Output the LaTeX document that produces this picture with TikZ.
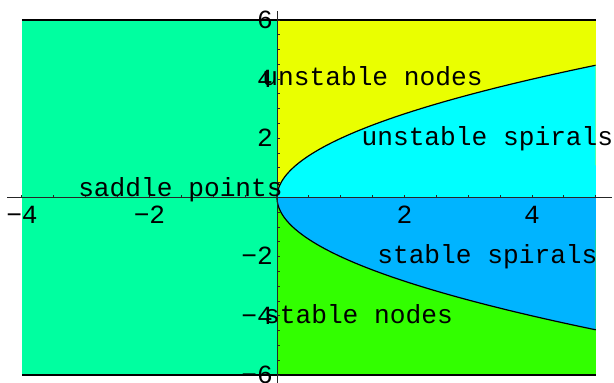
\documentclass[tikz,border=0pt]{standalone}
\usepackage{fontspec}
\newfontfamily\plotfont{Liberation Mono}
\definecolor{saddlegreen}{RGB}{0,255,160}
\definecolor{unodeyellow}{RGB}{234,255,0}
\definecolor{uspiralcyan}{RGB}{0,255,255}
\definecolor{sspiralblue}{RGB}{0,180,255}
\definecolor{snodegreen}{RGB}{50,255,0}

\begin{document}
\begin{tikzpicture}[x=63.75bp, y=29.58bp,
  regionlabel/.style={font=\plotfont\fontsize{26.3}{26.3}\selectfont, inner sep=0pt, anchor=base},
  ticklabel/.style={font=\plotfont\fontsize{26.3}{26.3}\selectfont, inner sep=0pt},
  boundary/.style={line width=1.2bp, black},
  axisline/.style={line width=1bp, black!85}
]
  \useasboundingbox (-4.345,-6.237) rectangle (5.286,6.677);
  % regions of the trace-determinant plane
  \fill[saddlegreen] (-4,-6) rectangle (0,6);
  \fill[unodeyellow] (0,0) rectangle (5,6);
  \fill[snodegreen] (0,-6) rectangle (5,0);
  \fill[uspiralcyan] plot[domain=0:4.4721, samples=60] ({\x*\x/4},\x) -- (5,0) -- cycle;
  \fill[sspiralblue] plot[domain=0:4.4721, samples=60] ({\x*\x/4},-\x) -- (5,0) -- cycle;
  \draw[boundary] plot[domain=-4.4721:4.4721, samples=120, smooth] ({\x*\x/4},\x);
  \draw[boundary] (-4,6) -- (5,6);
  \draw[boundary] (-4,-6) -- (5,-6);
  % axes and ticks
  \draw[axisline] (-4.235,0) -- (5.255,0);
  \draw[axisline] (0,-6.3) -- (0,6.305);
  \foreach \t in {-4,-3.5,...,5} \draw[axisline] (\t,0) -- ++(0,3bp);
  \foreach \t in {-6,-5.5,...,6} \draw[axisline] (0,\t) -- ++(3bp,0);
  \foreach \v/\s [count=\k] in {-4/−4,-2/−2,2/2,4/4}
    \node[ticklabel, anchor=base] (xtick\k) at (\v,-0.862) {\s};
  \foreach \v/\s [count=\k] in {6/6,4/4,2/2,-2/−2,-4/−4,-6/−6}
    \node[ticklabel, anchor=base east] (ytick\k) at (-0.063,{\v-0.28}) {\s};
  % region names
  \node[regionlabel] (unstablenodes) at (1.498,3.77) {unstable nodes};
  \node[regionlabel] (unstablespirals) at (3.30,1.758) {unstable spirals};
  \node[regionlabel] (saddle) at (-1.514,0.05) {saddle points};
  \node[regionlabel] (stablespirals) at (3.30,-2.225) {stable spirals};
  \node[regionlabel] (stablenodes) at (1.278,-4.253) {stable nodes};
\end{tikzpicture}
\end{document}
